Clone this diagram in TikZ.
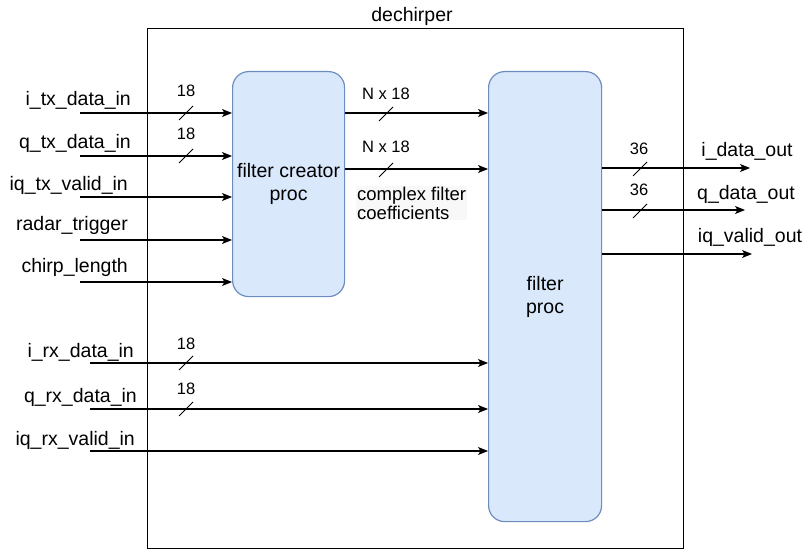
\documentclass[tikz,border=0pt]{standalone}
\usepackage{fontspec}
\setmainfont{Liberation Sans}
\usetikzlibrary{arrows.meta}
\definecolor{blockfill}{HTML}{DAE8FC}
\definecolor{blockline}{HTML}{6C8EBF}
\definecolor{notebg}{HTML}{F8F8F8}

\tikzset{
  buswidth/.pic={\draw[line width=1bp] (-7,7) -- (7,-7);}
}

\begin{document}
\begin{tikzpicture}[x=1bp,y=-1bp,
  lbl/.style={font=\fontsize{19.5bp}{23bp}\selectfont, inner sep=0pt},
  wlbl/.style={font=\fontsize{16.5bp}{20bp}\selectfont, inner sep=0pt, anchor=base},
  sig/.style={line width=1.2bp, -{Stealth[length=10bp,width=8bp,inset=2.5bp]}},
  block/.style={draw=blockline, fill=blockfill, line width=1.2bp,
    rounded corners=16bp, inner sep=0pt, align=center,
    font=\fontsize{19.5bp}{23bp}\selectfont, anchor=north west}
]
\useasboundingbox (0,0) rectangle (805,550);

% enclosing entity
\node[draw, line width=1.2bp, minimum width=536bp, minimum height=520bp,
  inner sep=0pt, anchor=north west] (dech) at (147,28) {};
\node[lbl, anchor=base] (dechl) at (412,22) {dechirper};

% processing blocks
\node[block, minimum width=112bp, minimum height=225bp] (fc) at (232,71) {filter creator\\proc};
\node[block, minimum width=113bp, minimum height=450bp] (fp) at (488,71) {filter\\proc};

% transmit-side inputs
\coordinate (itx) at (80,113);
\coordinate (qtx) at (80,156);
\coordinate (vtx) at (80,197);
\coordinate (trg) at (80,240);
\coordinate (chl) at (80,282);
\node[lbl, anchor=base east] (itxl) at (131,106) {i\_tx\_data\_in};
\node[lbl, anchor=base east] (qtxl) at (131,149) {q\_tx\_data\_in};
\node[lbl, anchor=base east] (vtxl) at (128,191) {iq\_tx\_valid\_in};
\node[lbl, anchor=base east] (trgl) at (128,231) {radar\_trigger};
\node[lbl, anchor=base east] (chll) at (128,273) {chirp\_length};
\foreach \c in {itx,qtx,vtx,trg,chl}
  \draw[sig] (\c) -- (\c -| fc.west);
\pic at (186,113) {buswidth};
\pic at (186,156) {buswidth};
\node[wlbl] (w1) at (186,97) {18};
\node[wlbl] (w2) at (186,140) {18};

% receive-side inputs
\coordinate (irx) at (90,363);
\coordinate (qrx) at (90,409);
\coordinate (vrx) at (90,451);
\node[lbl, anchor=base east] (irxl) at (134,357) {i\_rx\_data\_in};
\node[lbl, anchor=base east] (qrxl) at (137,402) {q\_rx\_data\_in};
\node[lbl, anchor=base east] (vrxl) at (135,445) {iq\_rx\_valid\_in};
\foreach \c in {irx,qrx,vrx}
  \draw[sig] (\c) -- (\c -| fp.west);
\pic at (186,363) {buswidth};
\pic at (186,409) {buswidth};
\node[wlbl] (w3) at (186,349) {18};
\node[wlbl] (w4) at (186,394) {18};

% filter coefficients between the blocks
\coordinate (k1) at (fc.east |- 0,113);
\coordinate (k2) at (fc.east |- 0,169);
\draw[sig] (k1) -- (k1 -| fp.west);
\draw[sig] (k2) -- (k2 -| fp.west);
\pic at (386,114) {buswidth};
\pic at (386,170) {buswidth};
\node[wlbl] (n1) at (386,100) {N x 18};
\node[wlbl] (n2) at (386,153) {N x 18};
\node[fill=notebg, inner sep=1bp, anchor=north west, align=left,
  font=\fontsize{18.5bp}{18.5bp}\selectfont] (coef) at (356,186)
  {complex filter\\coefficients};

% outputs
\coordinate (ido) at (fp.east |- 0,168);
\coordinate (qdo) at (fp.east |- 0,210);
\coordinate (vdo) at (fp.east |- 0,254);
\coordinate (idoe) at (750,168);
\coordinate (qdoe) at (745,210);
\coordinate (vdoe) at (752,254);
\draw[sig] (ido) -- (idoe);
\draw[sig] (qdo) -- (qdoe);
\draw[sig] (vdo) -- (vdoe);
\pic at (640,169) {buswidth};
\pic at (640,211) {buswidth};
\node[wlbl] (w5) at (639,155) {36};
\node[wlbl] (w6) at (639,196) {36};
\node[lbl, anchor=base] (idol) at (747,157) {i\_data\_out};
\node[lbl, anchor=base] (qdol) at (746,200) {q\_data\_out};
\node[lbl, anchor=base] (vdol) at (750,243) {iq\_valid\_out};
\end{tikzpicture}
\end{document}
